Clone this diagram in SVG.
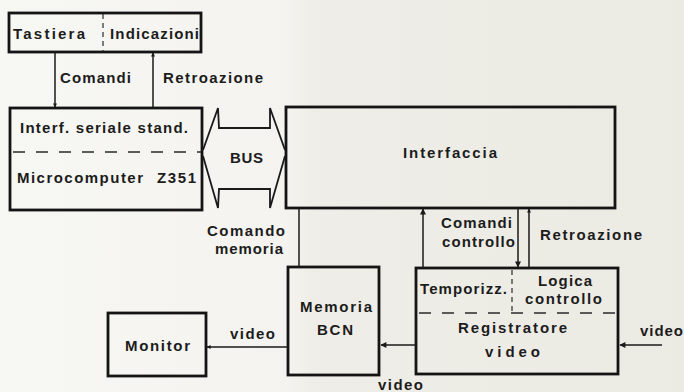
<svg xmlns="http://www.w3.org/2000/svg" width="684" height="392" viewBox="0 0 684 392">
<defs>
<linearGradient id="bg" x1="0" y1="0" x2="1" y2="0">
<stop offset="0" stop-color="#f7f7f3"/>
<stop offset="0.42" stop-color="#f4f3ef"/>
<stop offset="0.46" stop-color="#eeede7"/>
<stop offset="1" stop-color="#ebeae3"/>
</linearGradient>
<marker id="ah" viewBox="0 0 10 10" refX="9" refY="5" markerWidth="8" markerHeight="6" markerUnits="userSpaceOnUse" orient="auto">
<path d="M0,0 L10,5 L0,10 z" fill="#1a1a1a"/>
</marker>
<marker id="ahs" viewBox="0 0 10 10" refX="9" refY="5" markerWidth="5" markerHeight="4" markerUnits="userSpaceOnUse" orient="auto">
<path d="M0,0 L10,5 L0,10 z" fill="#1a1a1a"/>
</marker>
</defs>
<style>
.box{fill:none;stroke:#141414;stroke-width:2.8}
.dash{fill:none;stroke:#2a2a2a;stroke-width:1.6;stroke-dasharray:12 11}
.vdash{fill:none;stroke:#2a2a2a;stroke-width:1.2;stroke-dasharray:5 4}
.ln{fill:none;stroke:#1a1a1a;stroke-width:1.5}
.bus{fill:none;stroke:#1a1a1a;stroke-width:1.8;stroke-linejoin:miter}
text{font-family:"Liberation Sans",Arial,sans-serif;font-weight:bold;font-size:15px;fill:#1c1c1c}
</style>
<rect x="0" y="0" width="684" height="392" fill="url(#bg)"/>

<g id="tastiera">
<rect class="box" x="9" y="13" width="192" height="39"/>
<line class="vdash" x1="103" y1="14" x2="103" y2="51"/>
<text x="13" y="39" textLength="72" lengthAdjust="spacing">Tastiera</text>
<text x="110" y="39" textLength="89" lengthAdjust="spacing">Indicazioni</text>
</g>

<g id="microcomputer">
<rect class="box" x="10" y="108" width="192" height="102"/>
<line class="dash" x1="13" y1="152" x2="201" y2="152"/>
<text x="20" y="133" textLength="168" lengthAdjust="spacing">Interf. seriale stand.</text>
<text x="17" y="183" textLength="126" lengthAdjust="spacing">Microcomputer</text>
<text x="157" y="183" textLength="39" lengthAdjust="spacing">Z351</text>
</g>

<g id="interfaccia">
<rect class="box" x="286" y="107" width="329" height="101"/>
<text x="403" y="158" textLength="94" lengthAdjust="spacing">Interfaccia</text>
</g>

<g id="memoria">
<rect class="box" x="288" y="267" width="91" height="108"/>
<text x="300" y="312" textLength="72" lengthAdjust="spacing">Memoria</text>
<text x="317" y="335" textLength="36" lengthAdjust="spacing">BCN</text>
</g>

<g id="monitor">
<rect class="box" x="108" y="313" width="98" height="63"/>
<text x="125" y="351" textLength="65" lengthAdjust="spacing">Monitor</text>
</g>

<g id="registratore">
<rect class="box" x="416" y="268" width="202" height="106"/>
<line class="dash" x1="419" y1="313" x2="616" y2="313"/>
<line class="vdash" x1="512" y1="270" x2="512" y2="313"/>
<text x="420" y="294" textLength="87" lengthAdjust="spacing">Temporizz.</text>
<text x="538" y="286" textLength="54" lengthAdjust="spacing">Logica</text>
<text x="525" y="304" textLength="77" lengthAdjust="spacing">controllo</text>
<text x="458" y="333" textLength="109" lengthAdjust="spacing">Registratore</text>
<text x="485" y="357" textLength="55" lengthAdjust="spacing">video</text>
</g>

<g id="connectors">
<line class="ln" x1="55" y1="52" x2="55" y2="107" marker-end="url(#ahs)"/>
<line class="ln" x1="153" y1="107" x2="153" y2="53" marker-end="url(#ahs)"/>
<text x="60" y="83" textLength="71" lengthAdjust="spacing">Comandi</text>
<text x="163" y="83" textLength="100" lengthAdjust="spacing">Retroazione</text>

<polyline class="bus" points="203,150 218,108 219,128 270,128 270,108 285,150"/>
<polyline class="bus" points="203,156 218,208 219,189 270,189 270,208 285,156"/>
<text x="230" y="163" textLength="33" lengthAdjust="spacing">BUS</text>

<line class="ln" x1="299" y1="208" x2="299" y2="267"/>
<text x="207" y="236" textLength="78" lengthAdjust="spacing">Comando</text>
<text x="215" y="254" textLength="68" lengthAdjust="spacing">memoria</text>

<line class="ln" x1="423" y1="268" x2="423" y2="209" marker-end="url(#ah)"/>
<line class="ln" x1="518" y1="208" x2="518" y2="267" marker-end="url(#ah)"/>
<line class="ln" x1="529" y1="268" x2="529" y2="209" marker-end="url(#ahs)"/>
<text x="441" y="228" textLength="71" lengthAdjust="spacing">Comandi</text>
<text x="442" y="247" textLength="73" lengthAdjust="spacing">controllo</text>
<text x="540" y="240" textLength="102" lengthAdjust="spacing">Retroazione</text>

<line class="ln" x1="288" y1="347" x2="207" y2="347" marker-end="url(#ahs)"/>
<text x="230" y="339" textLength="45" lengthAdjust="spacing">video</text>

<line class="ln" x1="416" y1="345" x2="381" y2="345" marker-end="url(#ah)"/>
<text x="378" y="390" textLength="45" lengthAdjust="spacing">video</text>

<line class="ln" x1="662" y1="345" x2="620" y2="345" marker-end="url(#ah)"/>
<text x="640" y="336" textLength="43" lengthAdjust="spacing">video</text>
</g>
</svg>
